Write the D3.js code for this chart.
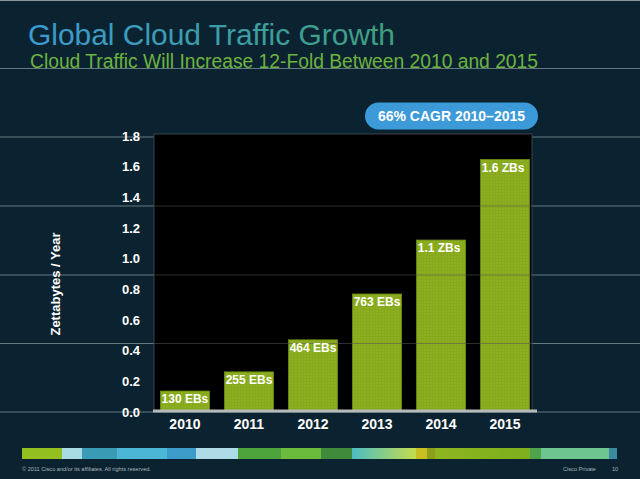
<!DOCTYPE html>
<html>
<head>
<meta charset="utf-8">
<script src="https://cdn.jsdelivr.net/npm/d3@7"></script>
<style>
  html, body { margin: 0; padding: 0; background: #0b2330; }
  svg { display: block; }
  text { font-family: Arial, "Liberation Sans", Helvetica, sans-serif; }
</style>
</head>
<body>
<script>
// ---- data ----
const years = ["2010", "2011", "2012", "2013", "2014", "2015"];
const traffic = [0.13, 0.255, 0.464, 0.763, 1.115, 1.64];
const barLabels = ["130 EBs", "255 EBs", "464 EBs", "763 EBs", "1.1 ZBs", "1.6 ZBs"];
const yTicks = [0, 0.2, 0.4, 0.6, 0.8, 1.0, 1.2, 1.4, 1.6, 1.8];
const titleText = "Global Cloud Traffic Growth";
const subtitleText = "Cloud Traffic Will Increase 12-Fold Between 2010 and 2015";
const badgeText = "66% CAGR 2010\u20132015";
const yAxisTitle = "Zettabytes / Year";
const footerLeft = "\u00a9 2011 Cisco and/or its affiliates. All rights reserved.";
const footerRight = "Cisco Private";
const pageNumber = "10";

// decorative slide elements
const slideLines = [0.5, 68.5, 137, 206, 275, 343.5, 412];
const stripe = [
  [22, 62, "#93c01f", "#93c01f"],
  [62, 82, "#a9dbe5", "#a9dbe5"],
  [82, 117, "#3a9bb5", "#3a9bb5"],
  [117, 167, "#4bb6d6", "#4bb6d6"],
  [167, 196, "#3d9bc9", "#3d9bc9"],
  [196, 238, "#aedbe6", "#aedbe6"],
  [238, 281, "#4ea43c", "#4ea43c"],
  [281, 321, "#6bbb3d", "#6bbb3d"],
  [321, 352, "#3f8b3b", "#3f8b3b"],
  [352, 416, "#4bbdc4", "#c5dc4c"],
  [416, 427, "#c8bf22", "#c8bf22"],
  [427, 435, "#8f9f1a", "#8f9f1a"],
  [435, 530, "#8db51f", "#7cb01c"],
  [530, 541, "#4fa34c", "#4fa34c"],
  [541, 609, "#6fc58f", "#6fc58f"],
  [609, 617, "#3a8aa2", "#3a8aa2"]
];

const W = 640, H = 479;
const svg = d3.select("body").append("svg").attr("width", W).attr("height", H);
const defs = svg.append("defs");

svg.append("rect").attr("width", W).attr("height", H).attr("fill", "#0b2330");

// title gradient
const tg = defs.append("linearGradient").attr("id", "tg")
  .attr("gradientUnits", "userSpaceOnUse").attr("x1", 28).attr("x2", 395).attr("y1", 0).attr("y2", 0);
tg.append("stop").attr("offset", 0).attr("stop-color", "#3b9bd4");
tg.append("stop").attr("offset", 1).attr("stop-color", "#3f9f7e");

// bar texture
const pat = defs.append("pattern").attr("id", "barpat").attr("patternUnits", "userSpaceOnUse")
  .attr("width", 3).attr("height", 3);
pat.append("rect").attr("width", 3).attr("height", 3).attr("fill", "#8caf1f");
pat.append("rect").attr("width", 3).attr("height", 1).attr("fill", "#86a81c");
pat.append("rect").attr("width", 1).attr("height", 3).attr("fill", "#86a81c");

// slide lines
svg.append("g").selectAll("line").data(slideLines).join("line")
  .attr("x1", 0).attr("x2", W).attr("y1", d => d).attr("y2", d => d)
  .attr("stroke", (d, i) => i === 0 ? "#8a969b" : "#647880").attr("stroke-width", 1);

// titles
svg.append("text").attr("x", 28).attr("y", 45).text(titleText)
  .attr("font-size", 29).attr("fill", "url(#tg)")
  .attr("textLength", 367).attr("lengthAdjust", "spacingAndGlyphs");
svg.append("text").attr("x", 30).attr("y", 67.5).text(subtitleText)
  .attr("font-size", 19.5).attr("fill", "#6db33f")
  .attr("textLength", 508).attr("lengthAdjust", "spacingAndGlyphs");

// scales
const x = d3.scaleBand().domain(years).range([154, 536]).paddingInner(0.234).paddingOuter(0.1);
const y = d3.scaleLinear().domain([0, 1.8]).range([411, 135]);

// plot area
svg.append("rect").attr("x", 154).attr("y", 134).attr("width", 378).attr("height", y(0) - 134)
  .attr("fill", "#000").attr("stroke", "#3c4346").attr("stroke-width", 1);

// bars
svg.append("g").selectAll("rect").data(traffic).join("rect")
  .attr("x", (d, i) => x(years[i]))
  .attr("y", d => y(d))
  .attr("width", x.bandwidth())
  .attr("height", d => y(0) - y(d))
  .attr("fill", "url(#barpat)")
  .attr("stroke", "#6f8c18").attr("stroke-width", 0.8);

// slide lines seen through the plot
svg.append("g").selectAll("line").data(slideLines.filter(v => v > 140 && v < 400)).join("line")
  .attr("x1", 154).attr("x2", 532).attr("y1", d => d).attr("y2", d => d)
  .attr("stroke", "#555").attr("stroke-opacity", 0.55);

// bar labels
svg.append("g").selectAll("text").data(barLabels).join("text")
  .attr("x", (d, i) => x(years[i]) + 1.2)
  .attr("y", (d, i) => y(traffic[i]) + 12)
  .text(d => d)
  .attr("font-size", 12).attr("font-weight", "bold").attr("fill", "#fff");

// baseline
svg.append("rect").attr("x", 153).attr("y", y(0) - 1.5).attr("width", 384).attr("height", 3)
  .attr("fill", "#b6baba");

// y axis
const yAxis = d3.axisLeft(y).tickValues(yTicks).tickFormat(d3.format(".1f")).tickSize(0).tickPadding(0);
const ya = svg.append("g").attr("transform", "translate(140,1)").call(yAxis);
ya.select(".domain").remove();
ya.selectAll("text").attr("font-size", 13).attr("font-weight", "bold").attr("fill", "#fff")
  .attr("font-family", "Arial, 'Liberation Sans', sans-serif");

// x axis
const xAxis = d3.axisBottom(x).tickSize(0).tickPadding(0);
const xa = svg.append("g").attr("transform", "translate(0,419)").call(xAxis);
xa.select(".domain").remove();
xa.selectAll("text").attr("font-size", 14).attr("font-weight", "bold").attr("fill", "#fff")
  .attr("font-family", "Arial, 'Liberation Sans', sans-serif");

// y axis title
svg.append("text").attr("transform", "translate(60,284) rotate(-90)")
  .attr("text-anchor", "middle").text(yAxisTitle)
  .attr("font-size", 13).attr("font-weight", "bold").attr("fill", "#fff");

// badge
svg.append("rect").attr("x", 365).attr("y", 102.5).attr("width", 173).attr("height", 27)
  .attr("rx", 13.5).attr("fill", "#3d9ad8");
svg.append("text").attr("x", 451.5).attr("y", 121).attr("text-anchor", "middle").text(badgeText)
  .attr("font-size", 14).attr("font-weight", "bold").attr("fill", "#fff");

// bottom color stripe
stripe.forEach((s, i) => {
  let fill = s[2];
  if (s[2] !== s[3]) {
    const g = defs.append("linearGradient").attr("id", "sg" + i);
    g.append("stop").attr("offset", 0).attr("stop-color", s[2]);
    g.append("stop").attr("offset", 1).attr("stop-color", s[3]);
    fill = "url(#sg" + i + ")";
  }
  svg.append("rect").attr("x", s[0]).attr("y", 448).attr("width", s[1] - s[0]).attr("height", 11)
    .attr("fill", fill);
});

// footer
svg.append("text").attr("x", 22).attr("y", 471).text(footerLeft)
  .attr("font-size", 5.6).attr("fill", "#aab3b8");
svg.append("text").attr("x", 563).attr("y", 471).text(footerRight)
  .attr("font-size", 5.6).attr("fill", "#aab3b8");
svg.append("text").attr("x", 612).attr("y", 471).text(pageNumber)
  .attr("font-size", 5.6).attr("fill", "#aab3b8");
</script>
</body>
</html>
